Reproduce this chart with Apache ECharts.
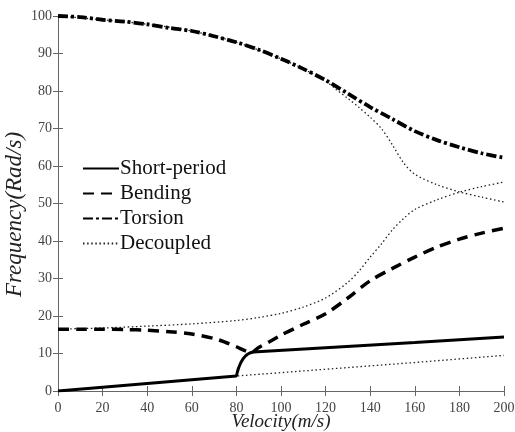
<!DOCTYPE html>
<html>
<head>
<meta charset="utf-8">
<script src="https://cdn.jsdelivr.net/npm/echarts@6/dist/echarts.min.js"></script>
<style>
  html, body { margin: 0; padding: 0; background: #fff; }
  #chart { width: 515px; height: 432px; }
</style>
</head>
<body>
<div id="chart"></div>
<script>
// velocity (m/s) / frequency (rad/s)
const torsionV = [0, 10, 20, 30, 40, 50, 60, 70, 80, 90, 100, 110, 120, 130, 140, 150, 160, 170, 180, 190, 200]
const torsion = [100, 99.7, 99.0, 98.5, 97.8, 96.8, 96.0, 94.6, 93.0, 91.0, 88.6, 85.9, 82.9, 79.3, 75.7, 72.5, 69.3, 66.9, 65.0, 63.4, 62.2]

const bendingV = [0, 10, 20, 30, 40, 50, 60, 70, 75, 80, 85, 87, 90, 95, 100, 110, 120, 130, 140, 150, 160, 170, 180, 190, 200]
const bending = [16.5, 16.5, 16.5, 16.4, 16.2, 15.8, 15.2, 14.0, 13.0, 11.8, 10.5, 10.4, 11.6, 13.2, 14.9, 17.8, 20.6, 24.8, 29.4, 32.7, 35.7, 38.4, 40.5, 42.1, 43.4]

const shortV = [0, 80, 80.5, 81, 82, 83, 84, 85, 86, 87.5, 120, 160, 200]
const shortPeriod = [0, 4.0, 5.2, 6.2, 7.6, 8.6, 9.3, 9.8, 10.15, 10.4, 11.55, 12.95, 14.4]

// decoupled modes
const torsionDecV = [0, 20, 40, 60, 80, 100, 110, 120, 125, 130, 135, 140, 145, 150, 155, 160, 170, 180, 190, 200]
const torsionDec = [100, 99.0, 97.8, 96.0, 93.0, 88.6, 85.9, 82.6, 80.3, 78.0, 75.6, 73.0, 70.0, 65.6, 60.8, 57.8, 55.0, 53.1, 51.7, 50.4]

const bendingDecV = [0, 20, 40, 60, 80, 90, 100, 110, 120, 130, 135, 140, 145, 150, 155, 160, 170, 180, 190, 200]
const bendingDec = [16.5, 16.8, 17.3, 17.9, 18.8, 19.6, 20.7, 22.4, 24.8, 29.0, 32.0, 35.7, 39.2, 43.0, 46.0, 48.4, 51.0, 53.0, 54.5, 55.7]

const shortDecV = [0, 80, 120, 160, 200]
const shortDec = [0, 4.0, 5.8, 7.6, 9.5]

const xTicks = [0, 20, 40, 60, 80, 100, 120, 140, 160, 180, 200]
const yTicks = [0, 10, 20, 30, 40, 50, 60, 70, 80, 90, 100]

const pairs = (xs, ys) => xs.map((x, i) => [x, ys[i]])

const serif = 'Liberation Serif'
const axisColor = '#666'

const chart = echarts.init(document.getElementById('chart'))

const baseX = {
  type: 'value', min: xTicks[0], max: xTicks[xTicks.length - 1], interval: 20,
  splitLine: { show: false },
  axisLine: { show: true, lineStyle: { color: axisColor, width: 1 } },
  axisTick: { show: true, inside: true, length: 5, lineStyle: { color: axisColor } }
}
const baseY = {
  type: 'value', min: yTicks[0], max: yTicks[yTicks.length - 1], interval: 10,
  splitLine: { show: false },
  axisLine: { show: true, lineStyle: { color: axisColor, width: 1 } },
  axisTick: { show: true, inside: true, length: 5, lineStyle: { color: axisColor } }
}

const dotted = { color: '#222', width: 1.3, type: [1.5, 2.6] }

const option = {
  animation: false,
  grid: { left: 58, right: 11, top: 16, bottom: 41, outerBoundsMode: 'none', containLabel: false },
  legend: {
    orient: 'vertical',
    left: 82, top: 158, padding: 0,
    itemWidth: 36, itemHeight: 14, itemGap: 4,
    itemStyle: { opacity: 0 },
    data: ['Short-period', 'Bending', 'Torsion', 'Decoupled'],
    textStyle: { fontFamily: serif, fontSize: 21, color: '#111', padding: [0, 0, 0, -4] }
  },
  xAxis: [
    Object.assign({}, baseX, {
      position: 'bottom',
      name: 'Velocity(m/s)', nameLocation: 'middle', nameGap: 21, nameMoveOverlap: false,
      nameTextStyle: { fontFamily: serif, fontStyle: 'italic', fontSize: 19, color: '#222' },
      axisLabel: { fontFamily: serif, fontSize: 14, color: '#444', margin: 10 }
    }),
    Object.assign({}, baseX, { position: 'top', axisLabel: { show: false } })
  ],
  yAxis: [
    Object.assign({}, baseY, {
      position: 'left',
      name: 'Frequency(Rad/s)', nameLocation: 'middle', nameGap: 32, nameMoveOverlap: false,
      nameTextStyle: { fontFamily: serif, fontStyle: 'italic', fontSize: 23, color: '#222', padding: [0, 22, 0, 0] },
      axisLabel: { fontFamily: serif, fontSize: 14, color: '#444', margin: 6 }
    }),
    Object.assign({}, baseY, { position: 'right', axisLabel: { show: false } })
  ],
  series: [
    {
      name: 'Decoupled', type: 'line', smooth: 0.3, symbol: 'none', z: 1,
      data: pairs(torsionDecV, torsionDec), lineStyle: dotted, itemStyle: { color: '#222' }
    },
    {
      name: 'Decoupled', type: 'line', smooth: 0.3, symbol: 'none', z: 1,
      data: pairs(bendingDecV, bendingDec), lineStyle: dotted, itemStyle: { color: '#222' }
    },
    {
      name: 'Decoupled', type: 'line', smooth: false, symbol: 'none', z: 1,
      data: pairs(shortDecV, shortDec), lineStyle: dotted, itemStyle: { color: '#222' }
    },
    {
      name: 'Short-period', type: 'line', smooth: false, symbol: 'none', z: 3,
      data: pairs(shortV, shortPeriod),
      lineStyle: { color: '#000', width: 3 }, itemStyle: { color: '#000' }
    },
    {
      name: 'Bending', type: 'line', smooth: 0.3, symbol: 'none', z: 2,
      data: pairs(bendingV, bending),
      lineStyle: { color: '#000', width: 3.5, type: [11, 7] }, itemStyle: { color: '#000' }
    },
    {
      name: 'Torsion', type: 'line', smooth: 0.3, symbol: 'none', z: 2,
      data: pairs(torsionV, torsion),
      lineStyle: { color: '#000', width: 3.8, type: [10, 3, 3, 3] }, itemStyle: { color: '#000' }
    }
  ]
}

chart.setOption(option)
</script>
</body>
</html>
